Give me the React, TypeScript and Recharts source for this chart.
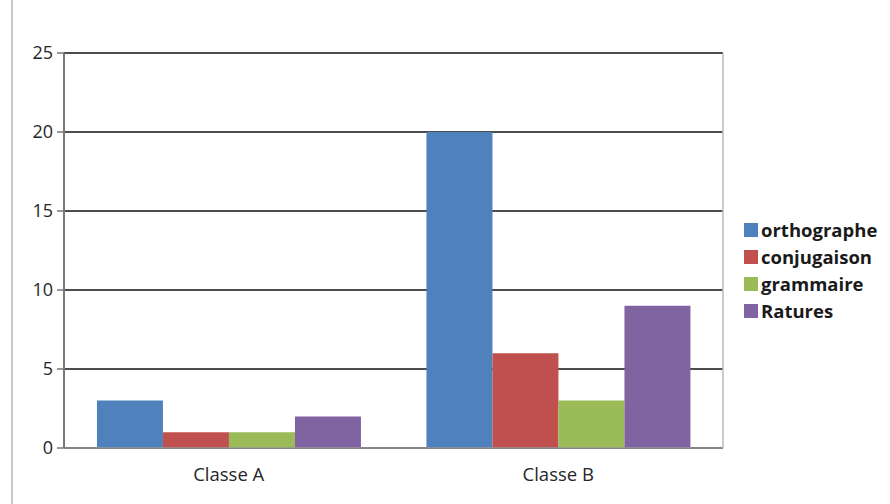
import React from 'react';
import { BarChart, Bar, XAxis, YAxis, CartesianGrid, Legend } from 'recharts';

const classes = ['Classe A', 'Classe B'];
const orthographe = [3, 20];
const conjugaison = [1, 6];
const grammaire = [1, 3];
const ratures = [2, 9];
const yTicks = [0, 5, 10, 15, 20, 25];

const series = [
    { key: 'orthographe', name: 'orthographe', color: '#4F81BD' },
    { key: 'conjugaison', name: 'conjugaison', color: '#C0504D' },
    { key: 'grammaire', name: 'grammaire', color: '#9BBB59' },
    { key: 'ratures', name: 'Ratures', color: '#8064A2' },
];

const data = classes.map((c, i) => ({
    name: c,
    orthographe: orthographe[i],
    conjugaison: conjugaison[i],
    grammaire: grammaire[i],
    ratures: ratures[i],
}));

const font = '"Open Sans", "Liberation Sans", sans-serif';

const LegendBox = () => (
    <div style={{ fontFamily: font, fontSize: 18.5, fontWeight: 700, color: '#1a1a1a' }}>
        {series.map(s => (
            <div key={s.key} style={{ display: 'flex', alignItems: 'center', height: 27 }}>
                <span style={{ display: 'inline-block', width: 14, height: 14, background: s.color, marginRight: 3 }} />
                <span>{s.name}</span>
            </div>
        ))}
    </div>
);

export default function App() {
    return (
        <div style={{ position: 'absolute', left: 0, top: 0, width: 890, height: 504, background: '#fff' }}>
            <div style={{ position: 'absolute', left: 11, top: 0, width: 2, height: 504, background: '#c8c8c8' }} />
            <BarChart
                width={890}
                height={504}
                data={data}
                margin={{ top: 53, right: 166, left: 4, bottom: 26 }}
                barCategoryGap="10%"
                barGap={0}
            >
                <CartesianGrid vertical={false} stroke="#111" strokeWidth={1.5} />
                <XAxis
                    dataKey="name"
                    tickLine={false}
                    axisLine={{ stroke: '#999', strokeWidth: 1.5 }}
                    fontSize={18.5}
                    fontFamily={font}
                    tick={{ fill: '#262626' }}
                    tickMargin={14}
                />
                <YAxis
                    domain={[0, 25]}
                    ticks={yTicks}
                    interval={0}
                    axisLine={{ stroke: '#777', strokeWidth: 2 }}
                    tickLine={{ stroke: '#777', strokeWidth: 1.5 }}
                    tickSize={7}
                    tickMargin={4}
                    fontSize={18}
                    fontFamily={font}
                    tick={{ fill: '#262626' }}
                />
                <YAxis
                    yAxisId="right"
                    orientation="right"
                    domain={[0, 25]}
                    width={1}
                    tick={false}
                    tickLine={false}
                    axisLine={{ stroke: '#bbb', strokeWidth: 1.5 }}
                />
                <Legend
                    layout="vertical"
                    align="center"
                    verticalAlign="middle"
                    content={<LegendBox />}
                    wrapperStyle={{ left: 744, top: 216, width: 'auto', height: 'auto' }}
                />
                {series.map(s => (
                    <Bar key={s.key} dataKey={s.key} name={s.name} fill={s.color} isAnimationActive={false} />
                ))}
            </BarChart>
        </div>
    );
}
